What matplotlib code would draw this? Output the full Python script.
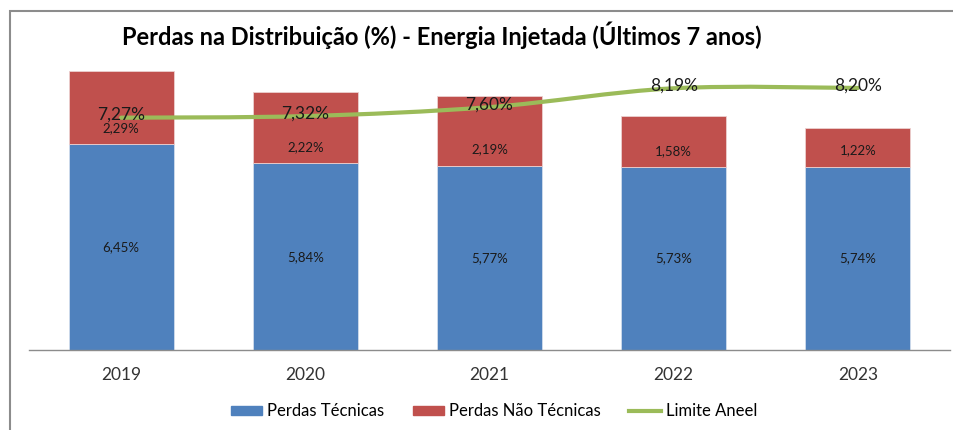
import matplotlib
matplotlib.use("Agg")
import matplotlib.pyplot as plt
from matplotlib.path import Path
from matplotlib.patches import PathPatch, Rectangle
from matplotlib.lines import Line2D
import numpy as np

plt.rcParams['font.family'] = ['Lato', 'DejaVu Sans']

years = ["2019", "2020", "2021", "2022", "2023"]
tecnicas = [6.45, 5.84, 5.77, 5.73, 5.74]
nao_tecnicas = [2.29, 2.22, 2.19, 1.58, 1.22]
limite = [7.27, 7.32, 7.60, 8.19, 8.20]

BLUE = "#4F81BD"
RED = "#C0504D"
GREEN = "#9BBB59"

def fmt(v):
    return f"{v:.2f}".replace(".", ",") + "%"

fig = plt.figure(figsize=(9.54, 4.30), dpi=100)
# outer border (Excel chart area)
fig.patches.append(Rectangle((10/954, -0.1), 1.2, (430-11)/430 + 0.1, transform=fig.transFigure,
                             fill=False, edgecolor="#8c8c8c", linewidth=1.5))

ax = fig.add_axes([29/954, 80/430, (950-29)/954, (350-56)/430])
x = np.arange(len(years))
w = 0.57
ax.bar(x, tecnicas, w, color=BLUE, edgecolor="#d0dcec", linewidth=0.6, label="Perdas Técnicas", zorder=2)
ax.bar(x, nao_tecnicas, w, bottom=tecnicas, color=RED, edgecolor="#ecd0d0", linewidth=0.6,
       label="Perdas Não Técnicas", zorder=2)

# smooth line (Catmull-Rom style bezier through the data points)
pts = np.column_stack([x, limite]).astype(float)
verts = [tuple(pts[0])]
codes = [Path.MOVETO]
n = len(pts)
for i in range(n - 1):
    p0 = pts[i - 1] if i > 0 else pts[i]
    p1 = pts[i]
    p2 = pts[i + 1]
    p3 = pts[i + 2] if i + 2 < n else pts[i + 1]
    c1 = p1 + (p2 - p0) / 6.0
    c2 = p2 - (p3 - p1) / 6.0
    verts += [tuple(c1), tuple(c2), tuple(p2)]
    codes += [Path.CURVE4] * 3
ax.add_patch(PathPatch(Path(verts, codes), facecolor="none", edgecolor=GREEN, linewidth=3,
                       zorder=3, capstyle="round"))

for xi, t, nt, l in zip(x, tecnicas, nao_tecnicas, limite):
    ax.text(xi, t / 2, fmt(t), ha="center", va="center", fontsize=9.5, color="#1a1a1a", zorder=4)
    ax.annotate(fmt(nt), (xi, t), xytext=(0, 11.5), textcoords="offset points",
                ha="center", va="center", fontsize=9.5, color="#1a1a1a", zorder=4)
    ax.annotate(fmt(l), (xi, l), xytext=(0, 2), textcoords="offset points",
                ha="center", va="center", fontsize=12.5, color="#1a1a1a", zorder=5)

ax.set_xlim(-0.5, len(years) - 0.5)
ax.set_ylim(0, 9.2)
ax.set_xticks(x)
ax.set_xticklabels(years, fontsize=12.5, color="#333333")
ax.tick_params(axis="x", length=0, pad=12)
ax.set_yticks([])
for s in ["top", "right", "left"]:
    ax.spines[s].set_visible(False)
ax.spines["bottom"].set_color("#8c8c8c")
ax.spines["bottom"].set_linewidth(1)

fig.text(122/954, 1 - 35/430, "Perdas na Distribuição (%) - Energia Injetada (Últimos 7 anos)",
         ha="left", va="center", fontsize=17, fontweight="bold", color="#000000")

handles = [Rectangle((0, 0), 1, 1, color=BLUE), Rectangle((0, 0), 1, 1, color=RED),
           Line2D([0], [0], color=GREEN, linewidth=3)]
fig.legend(handles, ["Perdas Técnicas", "Perdas Não Técnicas", "Limite Aneel"],
           loc="center", bbox_to_anchor=(494/954, 1 - 411/430), ncol=3, frameon=False,
           fontsize=12, handlelength=1.9, handleheight=0.45, handletextpad=0.3, columnspacing=1.7)

fig.savefig("out.png", dpi=100)
